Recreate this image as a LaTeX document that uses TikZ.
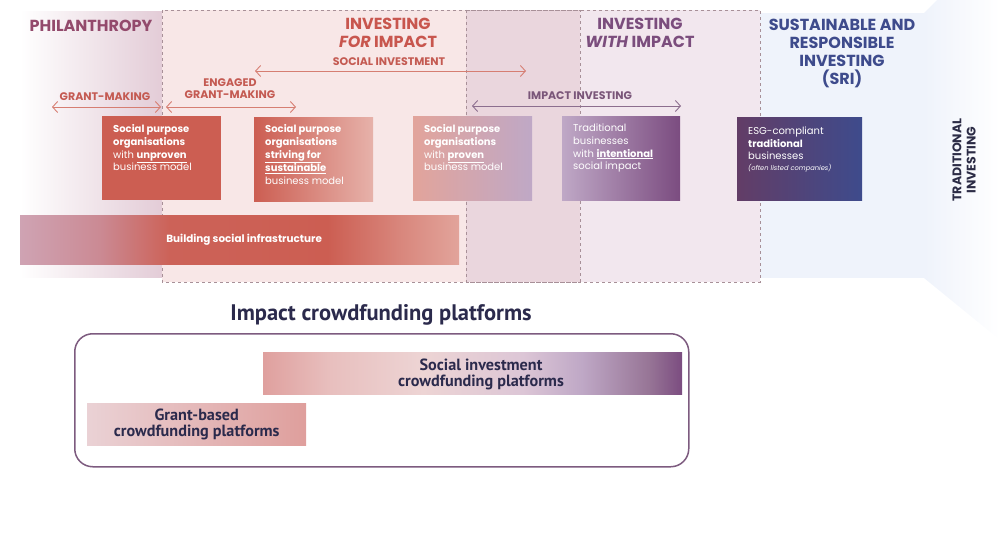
\documentclass[tikz,border=0pt]{standalone}
\usepackage{fontspec}
\setmainfont{Poppins}
\newfontfamily\narrowfont{PT Sans}
\usetikzlibrary{arrows.meta}
\definecolor{philc}{HTML}{934A6C}
\definecolor{forc}{HTML}{C8564E}
\definecolor{socc}{HTML}{C45A52}
\definecolor{sarrow}{HTML}{D67E72}
\definecolor{withc}{HTML}{7B4D7D}
\definecolor{impc}{HTML}{7A5679}
\definecolor{iarrow}{HTML}{8C6E8E}
\definecolor{sric}{HTML}{3E4B8C}
\definecolor{tradc}{HTML}{2C2C46}
\definecolor{navy}{HTML}{2B2A4C}
\definecolor{framec}{HTML}{7D5B7F}
\definecolor{dashc}{HTML}{A89098}
\definecolor{philband}{HTML}{E3CCD7}
\definecolor{forband}{HTML}{F8E7E7}
\definecolor{bothband}{HTML}{EAD6DD}
\definecolor{withband}{HTML}{F2E7EE}
\definecolor{sriband}{HTML}{EFF3FB}
\definecolor{infraA}{HTML}{CFA3B3}
\definecolor{infraB}{HTML}{CB8A94}
\definecolor{infraC}{HTML}{CC6258}
\definecolor{infraD}{HTML}{CC5E52}
\definecolor{infraE}{HTML}{D8857B}
\definecolor{infraF}{HTML}{E2A49B}
\definecolor{crowdA}{HTML}{DFA09E}
\definecolor{crowdB}{HTML}{E8BFBE}
\definecolor{crowdC}{HTML}{EDD4D4}
\definecolor{crowdD}{HTML}{DCC6D6}
\definecolor{crowdE}{HTML}{BFA8C6}
\definecolor{crowdF}{HTML}{977596}
\definecolor{crowdG}{HTML}{7B4C80}
\pgfdeclarehorizontalshading{infrashade}{100bp}{color(0bp)=(infraA); color(25bp)=(infraA);
  color(34bp)=(infraB); color(42bp)=(infraC); color(60bp)=(infraD); color(68bp)=(infraE);
  color(75bp)=(infraF); color(100bp)=(infraF)}
\pgfdeclarehorizontalshading{crowdshade}{100bp}{color(0bp)=(crowdA); color(25bp)=(crowdA);
  color(33bp)=(crowdB); color(44bp)=(crowdC); color(56bp)=(crowdD); color(63bp)=(crowdE);
  color(71bp)=(crowdF); color(75bp)=(crowdG); color(100bp)=(crowdG)}

\begin{document}
\begin{tikzpicture}[x=1pt, y=-1pt,
    zone/.style = {draw=dashc, dashed, line width=0.6pt},
    headtxt/.style = {font=\bfseries\fontsize{16}{17.8}\selectfont, align=center, inner sep=0pt},
    spantxt/.style = {font=\bfseries\fontsize{11}{12}\selectfont, align=center, inner sep=0pt},
    span/.style = {line width=0.9pt, {Straight Barb[length=5pt,width=11pt]}-{Straight Barb[length=5pt,width=11pt]}},
    orgbox/.style = {anchor=north west, minimum height=84pt, inner sep=0pt},
    orgtext/.style = {anchor=north west, inner sep=0pt, align=left, text=white,
                      font=\fontsize{10}{12.7}\selectfont},
    crowdbar/.style = {anchor=north west, minimum height=42pt, inner sep=0pt},
    crowdtxt/.style = {text=navy, align=center, inner sep=0pt,
                       font=\narrowfont\bfseries\fontsize{16.2}{16}\selectfont}]
  \useasboundingbox (0,0) rectangle (1000,534);

  % bands
  \fill[sriband] (760,13) rectangle (925,278);
  \shade[left color=sriband, right color=white] (924,13) -- (937,0) -- (1000,0)
      -- (1000,340) -- (924,278) -- cycle;
  \shade[left color=white, right color=philband] (20,12) rectangle (162,278);
  \fill[forband] (162,10) rectangle (466,282);
  \fill[bothband] (466,10) rectangle (580,282);
  \fill[withband] (580,10) rectangle (760,282);
  \draw[zone] (162,10) rectangle (580,282);
  \draw[zone] (466,10) rectangle (760,282);

  % headings
  \node[headtxt, text=philc] (phil) at (91,26) {PHILANTHROPY};
  \node[headtxt, text=forc] (forimp) at (388,33) {INVESTING\\\textit{FOR} IMPACT};
  \node[headtxt, text=withc] (withimp) at (640,33) {INVESTING\\\textit{WITH} IMPACT};
  \node[headtxt, text=sric] (sri) at (842,53.5) {SUSTAINABLE AND\\RESPONSIBLE\\INVESTING\\(SRI)};
  \node[headtxt, text=tradc, rotate=90, font=\bfseries\fontsize{12.5}{14.3}\selectfont]
      (trad) at (964,160) {TRADITIONAL\\INVESTING};

  % spans
  \node[spantxt, text=socc] (soclab) at (389,62) {SOCIAL INVESTMENT};
  \coordinate (socL) at (255,71);
  \coordinate (socR) at (526,71);
  \draw[span, sarrow] (socL) -- (socR);
  \node[spantxt, text=socc] (grantlab) at (105,97) {GRANT-MAKING};
  \coordinate (grantL) at (52,107);
  \coordinate (grantR) at (161,107);
  \draw[span, sarrow] (grantL) -- (grantR);
  \node[spantxt, text=socc] (englab) at (230,89) {ENGAGED\\GRANT-MAKING};
  \coordinate (engL) at (166,107);
  \coordinate (engR) at (296,107);
  \draw[span, sarrow] (engL) -- (engR);
  \node[spantxt, text=impc] (implab) at (580,96) {IMPACT INVESTING};
  \coordinate (impL) at (472,106);
  \coordinate (impR) at (681,106);
  \draw[span, iarrow] (impL) -- (impR);

  % organisation boxes
  \node[orgbox, minimum width=119pt, fill=infraD] (unproven) at (102,116) {};
  \node[orgtext] (unprovenT) at (113,124.5)
      {\textbf{Social purpose}\\\textbf{organisations}\\with \underline{\textbf{unproven}}\\business model};
  \node[orgbox, minimum width=119pt, left color=infraD, right color=infraF!85!white] (striving) at (254,117) {};
  \node[orgtext] (strivingT) at (265,124.5)
      {\textbf{Social purpose}\\\textbf{organisations}\\\underline{\textbf{striving for}}\\\underline{\textbf{sustainable}}\\business model};
  \node[orgbox, minimum width=119pt, left color=infraF, right color=crowdE] (proven) at (413,116) {};
  \node[orgtext] (provenT) at (424,124.5)
      {\textbf{Social purpose}\\\textbf{organisations}\\with \underline{\textbf{proven}}\\business model};
  \node[orgbox, minimum width=118pt, left color=crowdE, right color=crowdG] (intent) at (562,116) {};
  \node[orgtext] (intentT) at (573,124)
      {Traditional\\businesses\\with \underline{\textbf{intentional}}\\social impact};
  \node[orgbox, minimum width=125pt, minimum height=83pt, left color=crowdG!80!black, right color=sric] (esg) at (737,117) {};
  \node[orgtext] (esgT) at (748,126.5)
      {ESG-compliant\\\textbf{traditional}\\businesses\\[-2pt]{\fontsize{6.7}{9}\selectfont\textit{(often listed companies)}}};

  % infrastructure bar
  \node[anchor=north west, minimum width=439pt, minimum height=49pt, inner sep=0pt,
        shading=infrashade, text=white, font=\bfseries\fontsize{10.4}{11}\selectfont]
      (infra) at (20,215) {\hspace{9pt}Building social infrastructure};

  % crowdfunding platforms
  \node[text=navy, inner sep=0pt, font=\narrowfont\bfseries\fontsize{22.5}{24}\selectfont]
      (crowdtitle) at (381,315) {Impact crowdfunding platforms};
  \node[anchor=north west, minimum width=614pt, minimum height=133pt, draw=framec,
        line width=1.5pt, rounded corners=18pt] (platforms) at (74,333) {};
  \node[crowdbar, minimum width=419pt, shading=crowdshade] (sicbar) at (263,352) {};
  \node[crowdtxt] (sictext) at (481,374) {Social investment\\crowdfunding platforms};
  \node[crowdbar, minimum width=219pt, left color=crowdC!70!philband, right color=crowdA!95!infraE,
        crowdtxt] (gbbar) at (87,403) {Grant-based\\crowdfunding platforms};
\end{tikzpicture}
\end{document}
